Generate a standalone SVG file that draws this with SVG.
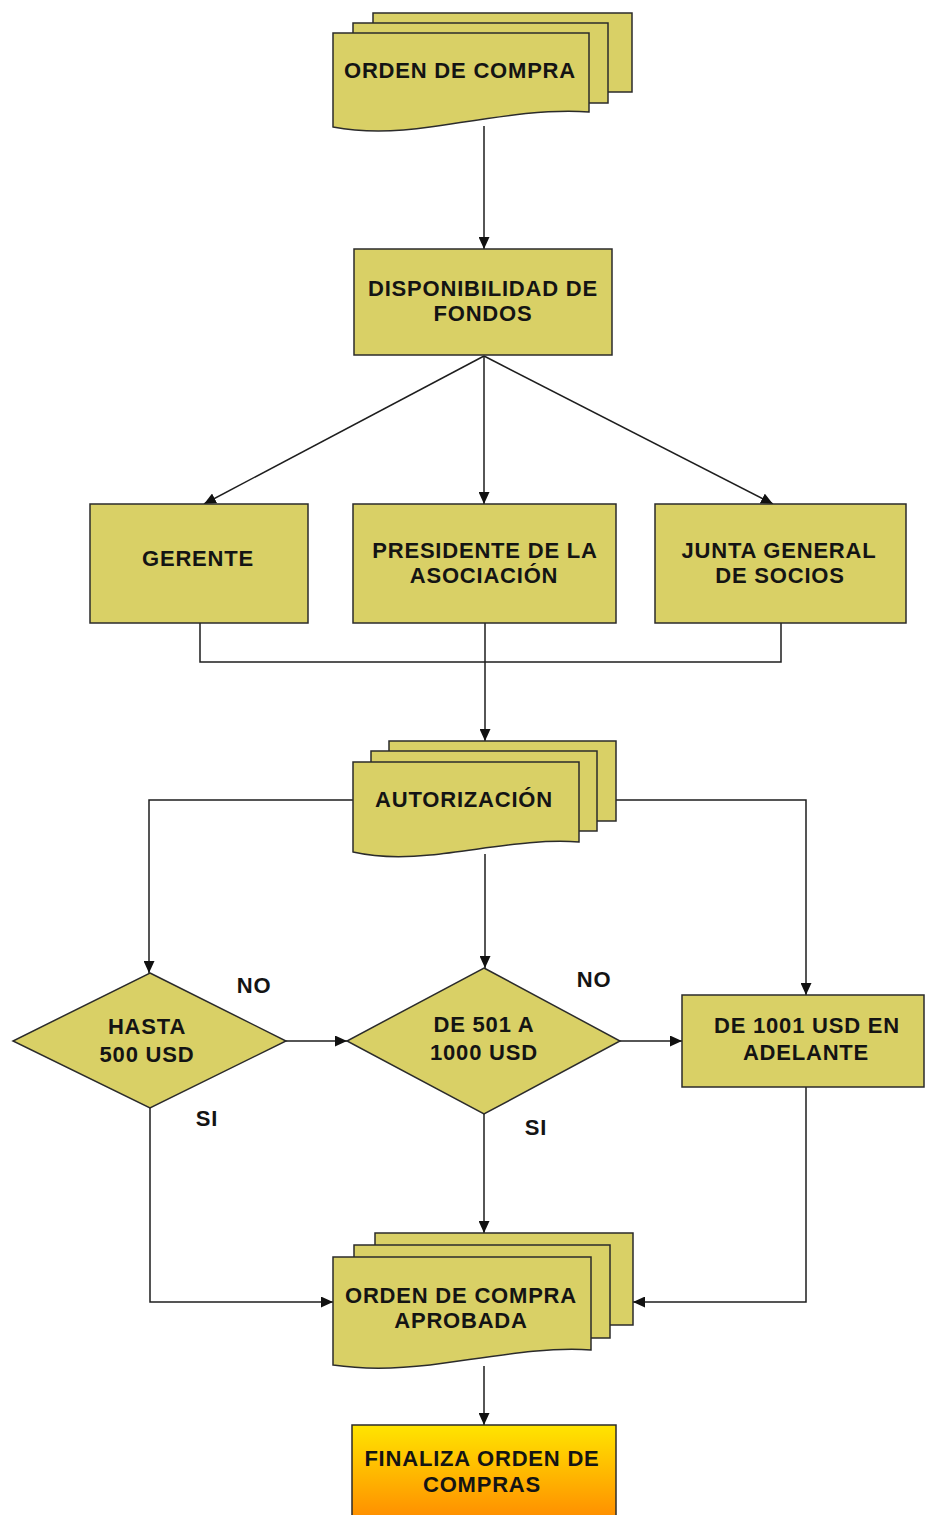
<svg xmlns="http://www.w3.org/2000/svg" width="925" height="1515" viewBox="0 0 925 1515">
  <style>
    .shape { fill: #d9d066; stroke: #2b2b2b; stroke-width: 1.5; }
    .label { font-family: "Liberation Sans", Arial, sans-serif; font-weight: bold; font-size: 22px; letter-spacing: 0.8px; fill: #141414; text-anchor: middle; }
    .wire { fill: none; stroke: #1e1e1e; stroke-width: 1.5; }
    .arrow { marker-end: url(#head); }
  </style>
  <defs>
    <marker id="head" markerUnits="userSpaceOnUse" markerWidth="13" markerHeight="11" refX="12" refY="5.5" orient="auto">
      <path d="M0,0 L12,5.5 L0,11 z" fill="#111"/>
    </marker>
    <linearGradient id="endFill" x1="0" y1="0" x2="0" y2="1">
      <stop offset="0" stop-color="#ffe500"/>
      <stop offset="1" stop-color="#ff8800"/>
    </linearGradient>
  </defs>

  <rect width="925" height="1515" fill="#ffffff"/>

  <!-- connectors -->
  <g id="connectors">
    <path class="wire arrow" d="M484,126 V249"/>
    <path class="wire arrow" d="M484,356 L204,504"/>
    <path class="wire arrow" d="M484,356 V504"/>
    <path class="wire arrow" d="M484,356 L773,504"/>
    <path class="wire" d="M200,623 V662 H781 V623"/>
    <path class="wire arrow" d="M485,623 V741"/>
    <path class="wire arrow" d="M353,800 H149 V973"/>
    <path class="wire arrow" d="M616,800 H806 V995"/>
    <path class="wire arrow" d="M485,854 V968"/>
    <path class="wire arrow" d="M286,1041 H347"/>
    <path class="wire arrow" d="M620,1041 H682"/>
    <path class="wire arrow" d="M150,1108 V1302 H333"/>
    <path class="wire arrow" d="M484,1114 V1233"/>
    <path class="wire arrow" d="M806,1087 V1302 H633"/>
    <path class="wire arrow" d="M484,1366 V1425"/>
  </g>

  <!-- purchase order (stacked documents) -->
  <g id="orden-compra">
    <rect class="shape" x="373" y="13" width="259" height="79"/>
    <rect class="shape" x="353" y="23" width="255" height="80"/>
    <path class="shape" d="M333,33 H589 V112 C540,108 480,120 430,127 C395,132 360,132 333,127 Z"/>
    <text class="label" x="460" y="78">ORDEN DE COMPRA</text>
  </g>

  <g id="disponibilidad">
    <rect class="shape" x="354" y="249" width="258" height="106"/>
    <text class="label" x="483" y="296">DISPONIBILIDAD DE</text>
    <text class="label" x="483" y="321">FONDOS</text>
  </g>

  <g id="gerente">
    <rect class="shape" x="90" y="504" width="218" height="119"/>
    <text class="label" x="198" y="566">GERENTE</text>
  </g>

  <g id="presidente">
    <rect class="shape" x="353" y="504" width="263" height="119"/>
    <text class="label" x="485" y="558">PRESIDENTE DE LA</text>
    <text class="label" x="484" y="583">ASOCIACIÓN</text>
  </g>

  <g id="junta">
    <rect class="shape" x="655" y="504" width="251" height="119"/>
    <text class="label" x="779" y="558">JUNTA GENERAL</text>
    <text class="label" x="780" y="583">DE SOCIOS</text>
  </g>

  <!-- authorization (stacked documents) -->
  <g id="autorizacion">
    <rect class="shape" x="389" y="741" width="227" height="80"/>
    <rect class="shape" x="371" y="751" width="226" height="80"/>
    <path class="shape" d="M353,762 H579 V842 C535,838 480,850 430,855 C400,858 375,857 353,852 Z"/>
    <text class="label" x="464" y="807">AUTORIZACIÓN</text>
  </g>

  <g id="hasta-500">
    <polygon class="shape" points="150,973 286,1041 150,1108 13,1041"/>
    <text class="label" x="147" y="1034">HASTA</text>
    <text class="label" x="147" y="1062">500 USD</text>
  </g>

  <g id="de-501-a-1000">
    <polygon class="shape" points="484,968 620,1041 484,1114 347,1041"/>
    <text class="label" x="484" y="1032">DE 501 A</text>
    <text class="label" x="484" y="1060">1000 USD</text>
  </g>

  <g id="de-1001">
    <rect class="shape" x="682" y="995" width="242" height="92"/>
    <text class="label" x="807" y="1033">DE 1001 USD EN</text>
    <text class="label" x="806" y="1060">ADELANTE</text>
  </g>

  <!-- branch labels -->
  <g id="branch-labels">
    <text class="label" x="254" y="993">NO</text>
    <text class="label" x="594" y="987">NO</text>
    <text class="label" x="207" y="1126">SI</text>
    <text class="label" x="536" y="1135">SI</text>
  </g>

  <!-- approved order (stacked documents) -->
  <g id="orden-aprobada">
    <rect class="shape" x="375" y="1233" width="258" height="92"/>
    <rect class="shape" x="354" y="1245" width="256" height="93"/>
    <path class="shape" d="M333,1257 H591 V1350 C545,1346 485,1358 430,1365 C395,1369 360,1369 333,1365 Z"/>
    <text class="label" x="461" y="1303">ORDEN DE COMPRA</text>
    <text class="label" x="461" y="1328">APROBADA</text>
  </g>

  <g id="finaliza">
    <rect x="352" y="1425" width="264" height="100" fill="url(#endFill)" stroke="#2b2b2b" stroke-width="1.5"/>
    <text class="label" x="482" y="1466">FINALIZA ORDEN DE</text>
    <text class="label" x="482" y="1492">COMPRAS</text>
  </g>
</svg>
